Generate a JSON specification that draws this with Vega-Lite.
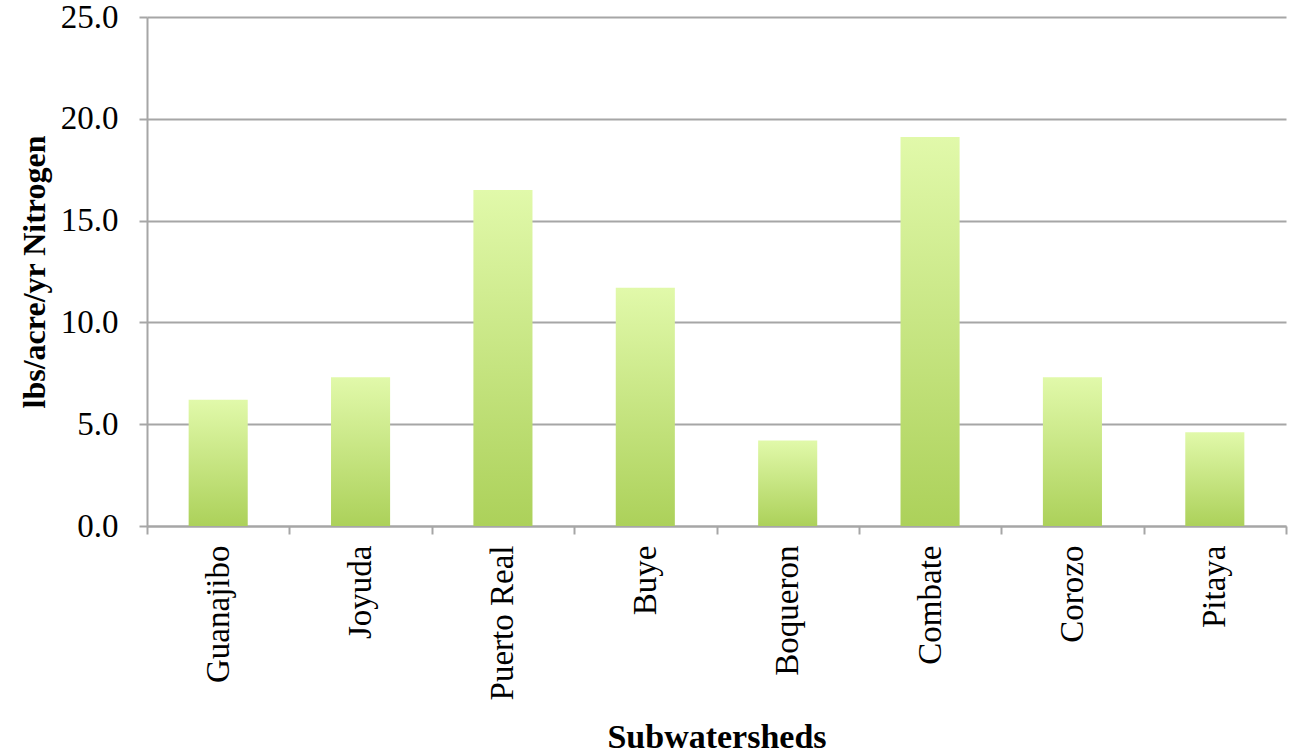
{
  "$schema": "https://vega.github.io/schema/vega-lite/v6.json",
  "width": 1139,
  "height": 509,
  "autosize": "none",
  "padding": {"left": 147, "top": 17, "right": 18, "bottom": 227},
  "background": "white",
  "data": {
    "values": [
      {"subwatershed": "Guanajibo", "value": 6.2},
      {"subwatershed": "Joyuda", "value": 7.3},
      {"subwatershed": "Puerto Real", "value": 16.5},
      {"subwatershed": "Buye", "value": 11.7},
      {"subwatershed": "Boqueron", "value": 4.2},
      {"subwatershed": "Combate", "value": 19.1},
      {"subwatershed": "Corozo", "value": 7.3},
      {"subwatershed": "Pitaya", "value": 4.6}
    ]
  },
  "mark": {
    "type": "bar",
    "width": {"band": 0.415},
    "color": {
      "gradient": "linear",
      "x1": 0, "y1": 0, "x2": 0, "y2": 1,
      "stops": [
        {"offset": 0, "color": "#e1f9aa"},
        {"offset": 1, "color": "#acd15a"}
      ]
    }
  },
  "encoding": {
    "x": {
      "field": "subwatershed",
      "type": "nominal",
      "sort": null,
      "scale": {"paddingInner": 0, "paddingOuter": 0},
      "axis": {
        "title": "Subwatersheds",
        "titleFont": "Liberation Serif",
        "titleFontSize": 34,
        "titleFontWeight": "bold",
        "titleColor": "black",
        "titleY": 221,
        "titleBaseline": "alphabetic",
        "labelFont": "Liberation Serif",
        "labelFontSize": 33,
        "labelColor": "black",
        "labelAngle": 270,
        "labelAlign": "right",
        "labelBaseline": "middle",
        "labelPadding": 11,
        "tickBand": "extent",
        "tickSize": 8,
        "tickColor": "#a6a6a6",
        "tickWidth": 2,
        "domainColor": "#a6a6a6",
        "domainWidth": 2,
        "grid": false
      }
    },
    "y": {
      "field": "value",
      "type": "quantitative",
      "scale": {"domain": [0, 25], "nice": false},
      "axis": {
        "title": "lbs/acre/yr Nitrogen",
        "titleFont": "Liberation Serif",
        "titleFontSize": 32,
        "titleFontWeight": "bold",
        "titleColor": "black",
        "titleX": -113,
        "titleBaseline": "middle",
        "values": [0, 5, 10, 15, 20, 25],
        "format": ".1f",
        "labelFont": "Liberation Serif",
        "labelFontSize": 33,
        "labelColor": "black",
        "labelPadding": 21,
        "tickSize": 8,
        "tickColor": "#a6a6a6",
        "tickWidth": 2,
        "domainColor": "#a6a6a6",
        "domainWidth": 2,
        "grid": true,
        "gridColor": "#a6a6a6",
        "gridWidth": 2
      }
    }
  },
  "config": {"view": {"stroke": null}}
}
